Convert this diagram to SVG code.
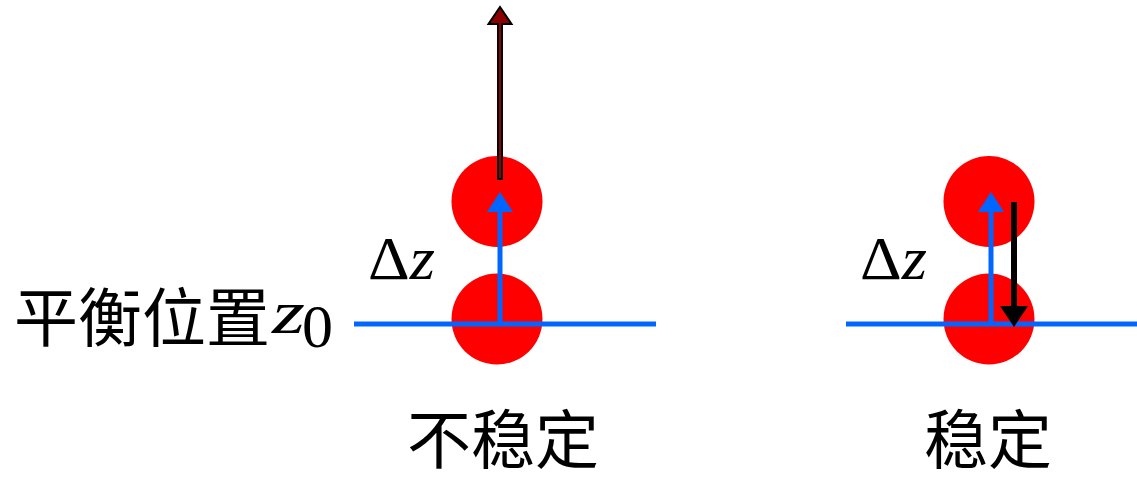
<svg xmlns="http://www.w3.org/2000/svg" width="1137" height="481" viewBox="0 0 1137 481">
<style>
.ball{fill:#ff0000}
.base{stroke:#0066ff;stroke-width:5;fill:none}
.disp{stroke:#0066ff;stroke-width:5;fill:none}
.cjk{font-family:"Noto Sans CJK SC","Noto Sans CJK JP",sans-serif;fill:#000}
.math{font-family:"Liberation Serif","DejaVu Serif",serif;font-size:62px;fill:#000}
.it{font-style:italic}
</style>
<rect width="1137" height="481" fill="#fff"/>
<g id="left-balls">
<circle class="ball" cx="497" cy="201.5" r="45.5"/>
<circle class="ball" cx="497" cy="319" r="45.5"/>
</g>
<g id="right-balls">
<circle class="ball" cx="989" cy="201.5" r="45.5"/>
<circle class="ball" cx="989" cy="319" r="45.5"/>
</g>
<g id="connectors">
<line class="base" x1="354" y1="324" x2="656" y2="324"/>
<line class="base" x1="846" y1="324" x2="1137" y2="324"/>
<line class="disp" x1="500" y1="324" x2="500" y2="208"/>
<path d="M500,192 L513,212 L487,212 Z" fill="#0066ff"/>
<line class="disp" x1="991" y1="324" x2="991" y2="208"/>
<path d="M991,192 L1004,212 L978,212 Z" fill="#0066ff"/>
<path d="M498,179 L498,24 L488.5,24 L500,7 L511.5,24 L502,24 L502,179 Z" fill="#8b0000" stroke="#000" stroke-width="2" stroke-linejoin="miter"/>
<line x1="1014" y1="202" x2="1014" y2="310" stroke="#000" stroke-width="6"/>
<path d="M1014,327 L1028,306 L1000,306 Z" fill="#000"/>
</g>
<g id="labels">
<text class="math" x="368" y="279" textLength="67" lengthAdjust="spacingAndGlyphs">Δ<tspan class="it">z</tspan></text>
<text class="math" x="860" y="279" textLength="67" lengthAdjust="spacingAndGlyphs">Δ<tspan class="it">z</tspan></text>
<text class="cjk" x="14" y="341" font-size="64">平衡位置</text>
<text class="math it" x="272" y="333" textLength="33" lengthAdjust="spacingAndGlyphs">z</text>
<text class="math" x="302" y="347" font-size="44">0</text>
<text class="cjk" x="407" y="463" font-size="64">不稳定</text>
<text class="cjk" x="924" y="463" font-size="64">稳定</text>
</g>
</svg>
